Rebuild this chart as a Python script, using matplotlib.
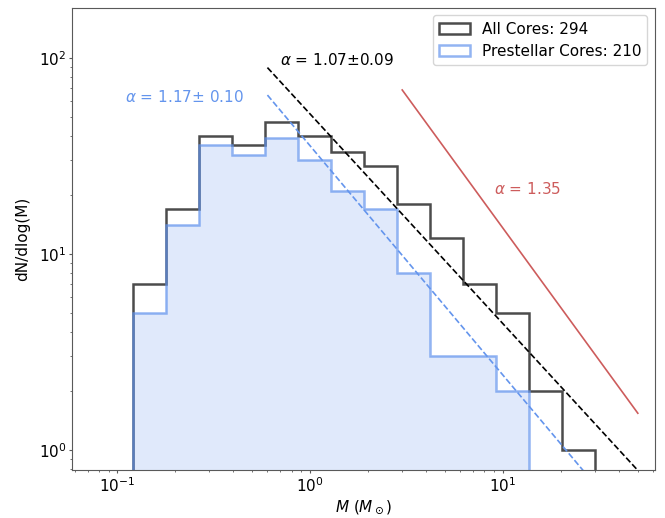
import numpy as np
import matplotlib
matplotlib.use("Agg")
import matplotlib.pyplot as plt

# bin edges (log spaced) and counts
edges = np.logspace(np.log10(0.12), np.log10(30.0), 15)
all_counts = [7, 17, 40, 36, 47, 40, 33, 28, 18, 12, 7, 5, 2, 1]
pre_counts = [5, 14, 36, 32, 39, 30, 21, 17, 8, 3, 3, 2, 0, 0]

# power-law fits: dN/dlogM = A * M^-alpha
fit_all = {"alpha": 1.07, "A": 51.6, "m": [0.6, 50.0]}
fit_pre = {"alpha": 1.17, "A": 35.5, "m": [0.6, 50.0]}
salpeter = {"alpha": 1.35, "A": 302.0, "m": [3.0, 50.0]}

centers = np.sqrt(edges[:-1] * edges[1:])

fig = plt.figure(figsize=(6.65, 5.18), dpi=100)
ax = fig.add_axes([0.109, 0.093, 0.876, 0.892])

ax.hist(centers, bins=edges, weights=pre_counts, histtype="stepfilled",
        color="cornflowerblue", alpha=0.2, log=True)
ax.hist(centers, bins=edges, weights=all_counts, histtype="step",
        color="black", alpha=0.7, lw=1.8, log=True, label="All Cores: 294")
ax.hist(centers, bins=edges, weights=pre_counts, histtype="step",
        color="cornflowerblue", alpha=0.7, lw=1.8, log=True,
        label="Prestellar Cores: 210")


def powerlaw(fit):
    m = np.logspace(np.log10(fit["m"][0]), np.log10(fit["m"][1]), 50)
    return m, fit["A"] * m ** (-fit["alpha"])


m, y = powerlaw(fit_all)
ax.plot(m, y, "k--", lw=1.2)
m, y = powerlaw(fit_pre)
ax.plot(m, y, "--", color="cornflowerblue", lw=1.2)
m, y = powerlaw(salpeter)
ax.plot(m, y, "-", color="indianred", lw=1.2)

ax.text(0.70, 97, r"$\alpha$ = 1.07$\pm$0.09", color="black", fontsize=11,
        va="center")
ax.text(0.109, 63, r"$\alpha$ = 1.17$\pm$ 0.10", color="cornflowerblue",
        fontsize=11, va="center")
ax.text(9.0, 21.5, r"$\alpha$ = 1.35", color="indianred", fontsize=11,
        va="center")

ax.set_xscale("log")
ax.set_yscale("log")
ax.set_xlim(0.0585, 61.4)
ax.set_ylim(0.79, 180)
ax.set_xlabel(r"$M$ ($M_\odot$)", fontsize=11, labelpad=2)
ax.set_ylabel("dN/dlog(M)", fontsize=11, labelpad=6)
ax.tick_params(labelsize=11, length=2.5, pad=2, color="0.35")
ax.tick_params(which="minor", length=1.5, color="0.35")
for s in ax.spines.values():
    s.set_color("0.35")
ax.legend(loc="upper right", fontsize=11)

fig.savefig("out.png", dpi=100)
